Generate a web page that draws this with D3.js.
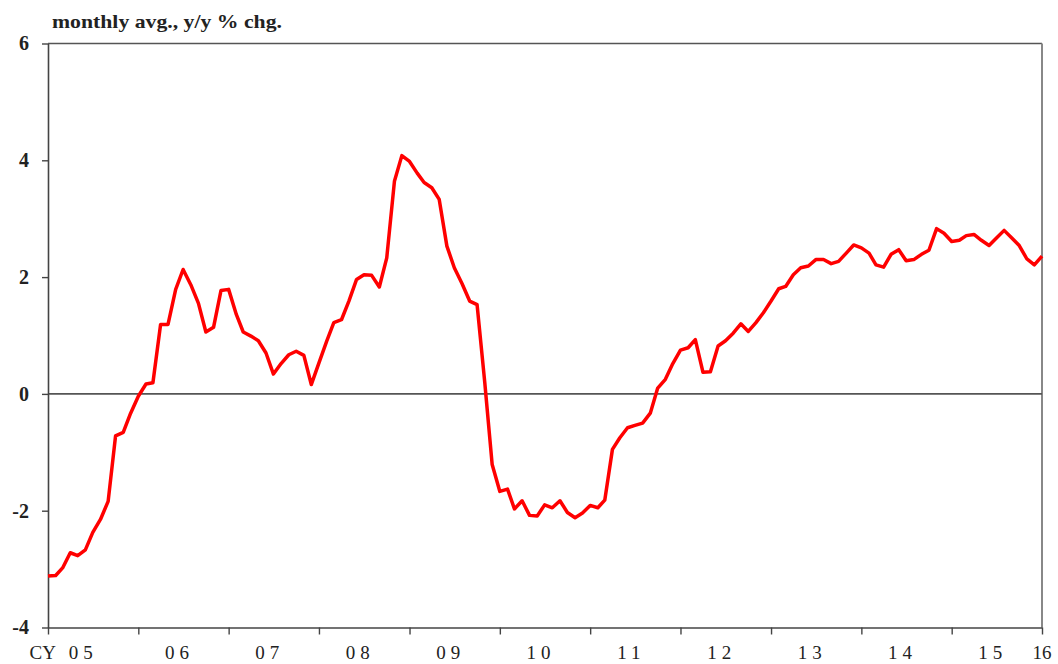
<!DOCTYPE html>
<html>
<head>
<meta charset="utf-8">
<script src="https://cdn.jsdelivr.net/npm/d3@7"></script>
<style>
	body { margin: 0; background: #fff; }
	text { font-family: "Liberation Serif", "Times New Roman", serif; fill: #222; }
</style>
</head>
<body>
<div id="chart"></div>
<script>
// monthly y/y % change, Jan 2005 .. Jan 2016
var values = [
	-3.12, -3.11, -2.98, -2.72, -2.77, -2.67, -2.37, -2.15, -1.84, -0.72, -0.66, -0.33,
	-0.04, 0.17, 0.19, 1.19, 1.19, 1.79, 2.13, 1.87, 1.55, 1.06, 1.14, 1.77,
	1.79, 1.36, 1.06, 0.99, 0.91, 0.70, 0.34, 0.52, 0.67, 0.73, 0.66, 0.16,
	0.53, 0.90, 1.22, 1.27, 1.59, 1.96, 2.04, 2.03, 1.83, 2.33, 3.64, 4.08,
	3.98, 3.78, 3.62, 3.53, 3.33, 2.53, 2.16, 1.89, 1.59, 1.53, 0.20, -1.21,
	-1.67, -1.63, -1.97, -1.83, -2.08, -2.09, -1.90, -1.95, -1.83, -2.03, -2.12, -2.04,
	-1.91, -1.95, -1.82, -0.95, -0.75, -0.58, -0.54, -0.50, -0.33, 0.10, 0.25, 0.52,
	0.75, 0.79, 0.93, 0.37, 0.38, 0.82, 0.91, 1.04, 1.20, 1.07, 1.22, 1.39,
	1.59, 1.80, 1.84, 2.04, 2.16, 2.19, 2.30, 2.30, 2.23, 2.27, 2.41, 2.55,
	2.50, 2.41, 2.21, 2.17, 2.39, 2.47, 2.28, 2.30, 2.39, 2.46, 2.83, 2.75,
	2.61, 2.63, 2.71, 2.73, 2.63, 2.54, 2.67, 2.80, 2.67, 2.54, 2.31, 2.21,
	2.36
];
var yearLabels = ["05", "06", "07", "08", "09", "10", "11", "12", "13", "14", "15"];
var firstPrefix = "CY";
var endLabel = "16";
var yTicks = [-4, -2, 0, 2, 4, 6];
var title = "monthly avg., y/y % chg.";

var width = 1058,
	height = 664,
	plotLeft = 48, plotRight = 1042, plotTop = 43.5, plotBottom = 627.5;

var months = d3.timeMonth.range(new Date(2005, 0, 1), new Date(2016, 1, 1));
var data = values.map(function(v, i) { return { date: months[i], value: v }; });
var years = d3.timeYear.range(new Date(2005, 0, 1), new Date(2017, 0, 1));

var x = d3.scaleTime()
	.domain([new Date(2005, 0, 1), new Date(2016, 0, 1)])
	.range([plotLeft, plotRight]);

var y = d3.scaleLinear()
	.domain([-4, 6])
	.range([plotBottom, plotTop]);

var svg = d3.select("#chart")
	.append("svg")
	.attr("width", width)
	.attr("height", height);

// title
svg.append("text")
	.attr("x", 52)
	.attr("y", 28)
	.attr("font-size", 19)
	.attr("font-weight", "bold")
	.attr("textLength", 230)
	.attr("lengthAdjust", "spacingAndGlyphs")
	.text(title);

// frame: top + right
svg.append("line")
	.attr("x1", plotLeft).attr("x2", plotRight)
	.attr("y1", plotTop).attr("y2", plotTop)
	.attr("stroke", "#555").attr("stroke-width", 1.6);
svg.append("line")
	.attr("x1", plotRight).attr("x2", plotRight)
	.attr("y1", plotTop).attr("y2", plotBottom)
	.attr("stroke", "#888").attr("stroke-width", 2);

// zero line
svg.append("line")
	.attr("x1", plotLeft).attr("x2", plotRight)
	.attr("y1", y(0)).attr("y2", y(0))
	.attr("stroke", "#555").attr("stroke-width", 1.6);

// y axis
var yAxis = svg.append("g")
	.attr("transform", "translate(" + plotLeft + ",0)")
	.call(d3.axisLeft(y).tickValues(yTicks).tickSize(6).tickSizeOuter(0).tickPadding(13)
		.tickFormat(function(d) { return String(d); }));
yAxis.select(".domain").attr("stroke", "#444").attr("stroke-width", 1.6);
yAxis.selectAll(".tick line").attr("stroke", "#444").attr("stroke-width", 1.4);
yAxis.selectAll(".tick text")
	.attr("font-size", 20)
	.attr("font-family", "Liberation Serif")
	.attr("font-weight", "bold")
	.attr("fill", "#222");

// x axis, ticks at year boundaries, labels between
var xAxis = svg.append("g")
	.attr("transform", "translate(0," + plotBottom + ")")
	.call(d3.axisBottom(x).tickValues(years.slice(0, 12)).tickSize(7).tickSizeOuter(0)
		.tickFormat(""));
xAxis.select(".domain").attr("stroke", "#444").attr("stroke-width", 1.6);
xAxis.selectAll(".tick line").attr("stroke", "#444").attr("stroke-width", 1.4);

var labels = svg.append("g")
	.selectAll("text")
	.data(yearLabels)
	.enter()
	.append("text")
	.attr("x", function(d, i) {
		var mid = (x(years[i]) + x(years[i + 1])) / 2;
		return i == 0 ? mid - 10 : mid - 4;
	})
	.attr("y", 659)
	.attr("font-size", 19)
	.attr("letter-spacing", 5)
	.attr("text-anchor", "middle")
	.text(function(d) { return d; });

// "CY" prefix in front of the first year
svg.append("text")
	.attr("x", 56)
	.attr("y", 659)
	.attr("font-size", 19)
	.attr("text-anchor", "end")
	.text(firstPrefix);

svg.append("text")
	.attr("x", x(years[11]))
	.attr("y", 659)
	.attr("font-size", 19)
	.attr("text-anchor", "middle")
	.text(endLabel);

// series
var line = d3.line()
	.x(function(d) { return x(d.date); })
	.y(function(d) { return y(d.value); });

svg.append("path")
	.datum(data)
	.attr("fill", "none")
	.attr("stroke", "#ff0000")
	.attr("stroke-width", 3.5)
	.attr("stroke-linejoin", "round")
	.attr("d", line);
</script>
</body>
</html>
